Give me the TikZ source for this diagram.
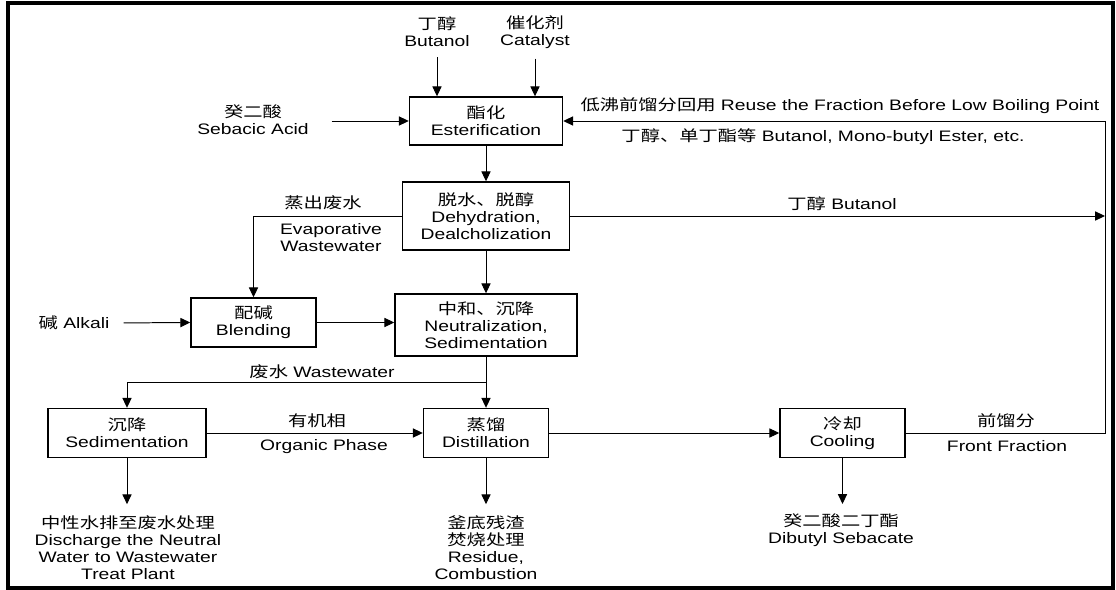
\documentclass[tikz,border=0pt]{standalone}
\usepackage{fontspec}
\setmainfont{Liberation Sans}[FakeStretch=1.27]
\newfontfamily\cjk{Noto Sans CJK SC}[FakeStretch=1.27]
\usetikzlibrary{arrows.meta,positioning,calc}

\begin{document}
\begin{tikzpicture}[
    x=0.025cm, y=-0.025cm,
    font=\fontsize{10.8pt}{12pt}\selectfont,
    procbox/.style={
      rectangle, draw=black, line width=1pt, align=center, inner sep=0pt,
      minimum height=1.225cm, minimum width=3.125cm
    },
    labeltext/.style={align=center, inner sep=1pt},
    flowarr/.style={-{Triangle[length=7pt,width=6.5pt]}, draw=black, line width=0.7pt}
  ]
    \useasboundingbox (0,0) rectangle (1116,590);
    \draw[line width=2.2pt] (8,3) rectangle (1113,588);

    % process steps
    \node[procbox, minimum width=3.825cm, minimum height=1.2cm] (ester) at (486,121) {{\cjk 酯化}\\Esterification};
    \node[procbox, minimum width=4.175cm, minimum height=1.7cm] (dehy) at (486,216) {{\cjk 脱水、脱醇}\\Dehydration,\\Dealcholization};
    \node[procbox, minimum width=4.55cm, minimum height=1.55cm] (neut) at (486,325) {{\cjk 中和、沉降}\\Neutralization,\\Sedimentation};
    \node[procbox] (blend) at (253.5,322.5) {{\cjk 配碱}\\Blending};
    \node[procbox, minimum width=3.95cm] (sedi) at (127,433) {{\cjk 沉降}\\Sedimentation};
    \node[procbox] (dist) at (486,433) {{\cjk 蒸馏}\\Distillation};
    \node[procbox] (cool) at (842.5,433) {{\cjk 冷却}\\Cooling};
    \coordinate (loop) at (1105,121);

    % feeds and products
    \node[labeltext] (butanol) at (437,32) {{\cjk 丁醇}\\Butanol};
    \node[labeltext] (catalyst) at (535,32) {{\cjk 催化剂}\\Catalyst};
    \node[labeltext] (sebacic) at (253,120) {{\cjk 癸二酸}\\Sebacic Acid};
    \node[labeltext] (alkali) at (74,323) {{\cjk 碱} Alkali};
    \node[labeltext] (discharge) at (128,547.5) {{\cjk 中性水排至废水处理}\\Discharge the Neutral\\Water to Wastewater\\Treat Plant};
    \node[labeltext] (residue) at (486,547.5) {{\cjk 釜底残渣}\\{\cjk 焚烧处理}\\Residue,\\Combustion};
    \node[labeltext] (dibutyl) at (841,530.5) {{\cjk 癸二酸二丁酯}\\Dibutyl Sebacate};

    % stream labels
    \node[labeltext] (reuse) at (840,106) {{\cjk 低沸前馏分回用} Reuse the Fraction Before Low Boiling Point};
    \node[labeltext] (recycled) at (823,137) {{\cjk 丁醇、单丁酯等} Butanol, Mono-butyl Ester, etc.};
    \node[labeltext] (butout) at (842,204) {{\cjk 丁醇} Butanol};
    \node[labeltext] (evapzh) at (323,203) {\cjk 蒸出废水};
    \node[labeltext] (evapen) at (331,238) {Evaporative\\Wastewater};
    \node[labeltext] (wastewater) at (322,372) {{\cjk 废水} Wastewater};
    \node[labeltext] (orgzh) at (317,421) {\cjk 有机相};
    \node[labeltext] (orgen) at (324,447) {Organic Phase};
    \node[labeltext] (frontzh) at (1006,421) {\cjk 前馏分};
    \node[labeltext] (fronten) at (1007,446) {Front Fraction};

    \draw[flowarr, shorten <=6pt] (butanol) -- (butanol |- ester.north);
    \draw[flowarr, shorten <=6pt] (catalyst) -- (catalyst |- ester.north);
    \draw[flowarr, shorten <=15pt] (sebacic.east |- ester.west) -- (ester.west);
    \draw[flowarr] (ester) -- (dehy);
    \draw[flowarr] (dehy) -- (neut);
    \draw[flowarr] (dehy.west) -| (blend.north);
    \draw[flowarr] (dehy.east) -- (dehy.east -| loop);
    \draw[flowarr, shorten <=9pt] (alkali.east) -- (blend.west);
    \draw[flowarr] (blend.east) -- (blend.east -| neut.west);
    \draw[flowarr] (neut) -- (dist);
    \coordinate (wwsplit) at ($(neut.south)!0.5!(dist.north)$);
    \draw[flowarr] (wwsplit) -| (sedi.north);
    \draw[flowarr] (sedi) -- (dist);
    \draw[flowarr] (dist) -- (cool);
    \draw[flowarr] (cool.east) -| (loop) -- (ester.east);
    \draw[flowarr, shorten >=7pt] (sedi) -- (sedi |- discharge.north);
    \draw[flowarr, shorten >=7pt] (dist) -- (dist |- residue.north);
    \draw[flowarr, shorten >=6pt] (cool) -- (cool |- dibutyl.north);
  \end{tikzpicture}
\end{document}
